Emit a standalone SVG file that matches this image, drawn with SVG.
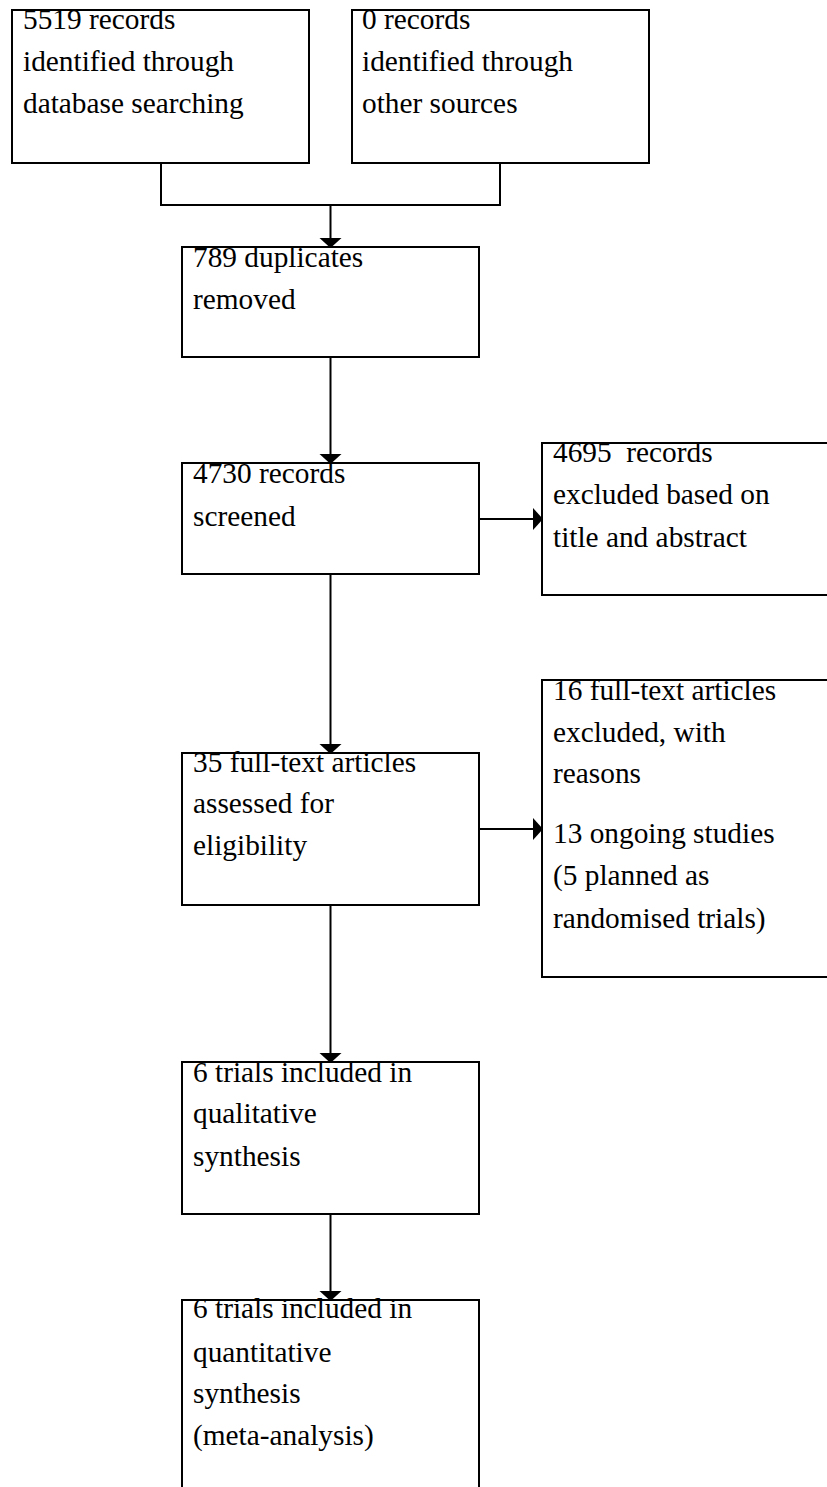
<svg xmlns="http://www.w3.org/2000/svg" width="827" height="1487" viewBox="0 0 827 1487">
<style>
.box{fill:#fff;stroke:#000;stroke-width:2}
.t{font-size:29.33px;fill:#000}
.c{fill:none;stroke:#000;stroke-width:2}
.ah{fill:#000;stroke:none}
</style>
<rect width="827" height="1487" fill="#fff"/>
<g font-family="'Liberation Serif', 'Times New Roman', serif">
<g id="n1">
<rect class="box" x="12" y="10" width="297" height="153"/>
<text class="t"><tspan x="23" y="29">5519 records</tspan><tspan x="23" y="71">identified through</tspan><tspan x="23" y="113">database searching</tspan></text>
</g>
<g id="n2">
<rect class="box" x="352" y="10" width="297" height="153"/>
<text class="t"><tspan x="362" y="29">0 records</tspan><tspan x="362" y="71">identified through</tspan><tspan x="362" y="113">other sources</tspan></text>
</g>
<g id="n3">
<rect class="box" x="182" y="247" width="297" height="110"/>
<text class="t"><tspan x="193" y="266.5">789 duplicates</tspan><tspan x="193" y="308.5">removed</tspan></text>
</g>
<g id="n4">
<rect class="box" x="182" y="463" width="297" height="111"/>
<text class="t"><tspan x="193" y="483">4730 records</tspan><tspan x="193" y="525.5">screened</tspan></text>
</g>
<g id="n5">
<rect class="box" x="542" y="443" width="300" height="152"/>
<text class="t" xml:space="preserve"><tspan x="553" y="462">4695  records</tspan><tspan x="553" y="504">excluded based on</tspan><tspan x="553" y="546.5">title and abstract</tspan></text>
</g>
<g id="n6">
<rect class="box" x="182" y="753" width="297" height="152"/>
<text class="t"><tspan x="193" y="771.5">35 full-text articles</tspan><tspan x="193" y="813">assessed for</tspan><tspan x="193" y="855">eligibility</tspan></text>
</g>
<g id="n7">
<rect class="box" x="542" y="680" width="300" height="297"/>
<text class="t"><tspan x="553" y="700">16 full-text articles</tspan><tspan x="553" y="741.5">excluded, with</tspan><tspan x="553" y="783">reasons</tspan><tspan x="553" y="843">13 ongoing studies</tspan><tspan x="553" y="885">(5 planned as</tspan><tspan x="553" y="927.5">randomised trials)</tspan></text>
</g>
<g id="n8">
<rect class="box" x="182" y="1062" width="297" height="152"/>
<text class="t"><tspan x="193" y="1081.5">6 trials included in</tspan><tspan x="193" y="1123">qualitative</tspan><tspan x="193" y="1165.5">synthesis</tspan></text>
</g>
<g id="n9">
<rect class="box" x="182" y="1300" width="297" height="200"/>
<text class="t"><tspan x="193" y="1318">6 trials included in</tspan><tspan x="193" y="1361.5">quantitative</tspan><tspan x="193" y="1403">synthesis</tspan><tspan x="193" y="1445">(meta-analysis)</tspan></text>
</g>
</g>
<g id="connectors">
<path class="c" d="M161,163 V205 H500 V163"/>
<path class="c" d="M330.5,205 V240"/>
<polygon class="ah" points="319.5,238 341.5,238 330.5,248"/>
<path class="c" d="M330.5,357 V456"/>
<polygon class="ah" points="319.5,454 341.5,454 330.5,464"/>
<path class="c" d="M330.5,574 V746"/>
<polygon class="ah" points="319.5,744 341.5,744 330.5,754"/>
<path class="c" d="M330.5,905 V1055"/>
<polygon class="ah" points="319.5,1053 341.5,1053 330.5,1063"/>
<path class="c" d="M330.5,1214 V1293"/>
<polygon class="ah" points="319.5,1291 341.5,1291 330.5,1301"/>
<path class="c" d="M479,519 H535"/>
<polygon class="ah" points="533,508 533,530 543,519"/>
<path class="c" d="M479,829 H535"/>
<polygon class="ah" points="533,818 533,840 543,829"/>
</g>
</svg>
